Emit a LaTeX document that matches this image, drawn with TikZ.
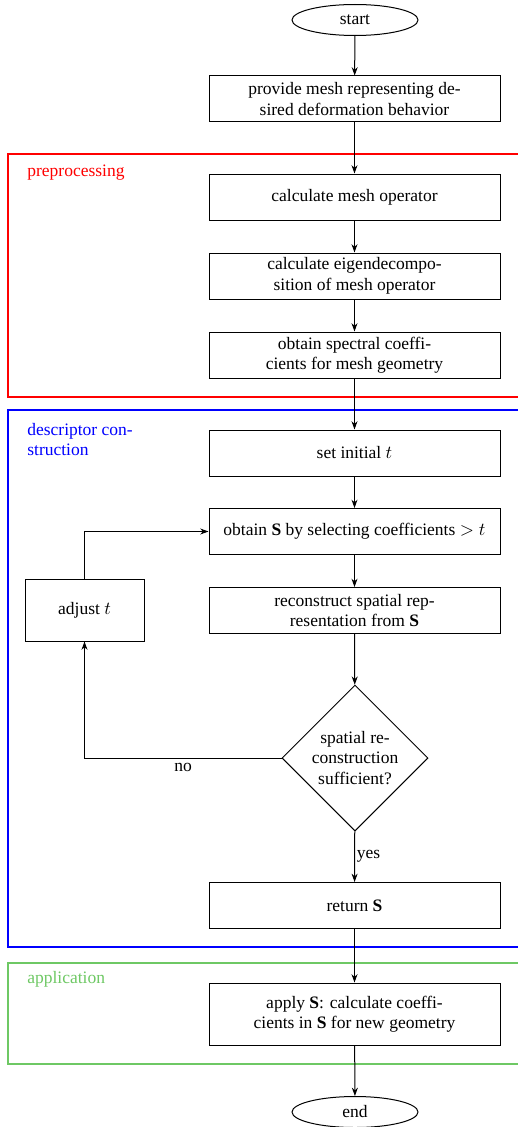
\documentclass[tikz,border=0pt]{standalone}
\usepackage{fontspec}
\setmainfont{Liberation Serif}
\usetikzlibrary{shapes.geometric,arrows.meta}
\definecolor{appgreen}{RGB}{110,200,100}
\tikzset{
  every node/.append style={font=\fontsize{10.5pt}{12.3pt}\selectfont},
  stepbox/.style={draw,line width=0.6pt,rectangle,align=center,minimum width=174.6pt,minimum height=27.6pt,inner sep=2pt},
  term/.style={draw,line width=0.6pt,ellipse,minimum width=75.6pt,minimum height=18.6pt,inner sep=0pt},
  decision/.style={draw,line width=0.6pt,diamond,align=center,minimum width=87.6pt,minimum height=87.6pt,inner sep=0pt},
  region/.style={line width=1.3pt},
  regionlabel/.style={anchor=north west,inner sep=0pt,align=left},
  conn/.style={line width=0.6pt,-{Stealth[length=5pt,width=3.6pt]}},
  lbl/.style={inner sep=1pt}
}
\begin{document}
\begin{tikzpicture}[x=0.6pt,y=-0.6pt]
\useasboundingbox (0,0) rectangle (518,1127);
\clip (0,0) rectangle (518,1127);
% regions
\draw[region,red] (8,154) rectangle (530,397);
\node[regionlabel,text=red] (lpre) at (27,165) {preprocessing};
\draw[region,blue] (8,410) rectangle (530,947);
\node[regionlabel,text=blue] (ldesc) at (27,423) {descriptor con-\\struction};
\draw[region,appgreen] (8,963) rectangle (530,1064);
\node[regionlabel,text=appgreen] (lapp) at (27,971) {application};
% nodes
\node[term] (start) at (355,20) {start};
\node[stepbox] (b1) at (354.5,99) {provide mesh representing de-\\sired deformation behavior};
\node[stepbox] (b2) at (354.5,197) {calculate mesh operator};
\node[stepbox] (b3) at (354.5,276) {calculate eigendecompo-\\sition of mesh operator};
\node[stepbox] (b4) at (354.5,355) {obtain spectral coeffi-\\cients for mesh geometry};
\node[stepbox] (b5) at (354.5,453) {set initial $t$};
\node[stepbox] (b6) at (354.5,531.5) {obtain $\mathbf{S}$ by selecting coefficients $>t$};
\node[stepbox] (b7) at (354.5,610.5) {reconstruct spatial rep-\\resentation from $\mathbf{S}$};
\node[decision] (d) at (355,758) {spatial re-\\construction\\sufficient?};
\node[stepbox,minimum width=71.4pt,minimum height=37.2pt] (adj) at (84.5,610) {adjust $t$};
\node[stepbox] (b8) at (354.5,905.5) {return $\mathbf{S}$};
\node[stepbox,minimum height=37.2pt] (b9) at (354.5,1014) {apply $\mathbf{S}$: calculate coeffi-\\cients in $\mathbf{S}$ for new geometry};
\node[term] (end) at (355,1112) {end};
% connectors
\draw[conn] (start) -- (b1);
\draw[conn] (b1) -- (b2);
\draw[conn] (b2) -- (b3);
\draw[conn] (b3) -- (b4);
\draw[conn] (b4) -- (b5);
\draw[conn] (b5) -- (b6);
\draw[conn] (b6) -- (b7);
\draw[conn] (b7) -- (d);
\draw[conn] (d) -- node[lbl,right] {yes} (b8);
\draw[conn] (d.west) -- node[lbl,below,pos=0.5,yshift=-2pt] {no} (d.west -| adj) -- (adj);
\draw[conn] (adj) |- (b6);
\draw[conn] (b8) -- (b9);
\draw[conn] (b9) -- (end);
\end{tikzpicture}
\end{document}
